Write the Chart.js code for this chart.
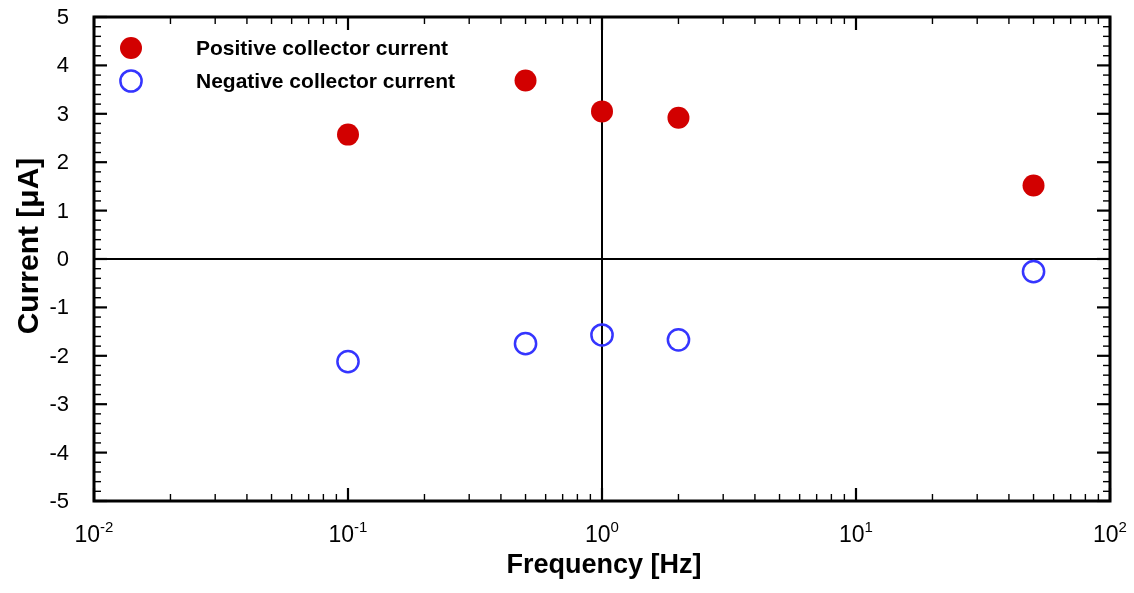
<!DOCTYPE html>
<html>
<head>
<meta charset="utf-8">
<script src="https://cdn.jsdelivr.net/npm/chart.js@4.4.1/dist/chart.umd.min.js"></script>
<style>
  html, body { margin: 0; padding: 0; background: #fff; }
  canvas { display: block; }
</style>
</head>
<body>
<canvas id="chart" width="1134" height="593"></canvas>
<script>
  // data
  const frequencies = [0.1, 0.5, 1, 2, 50];
  const positiveCurrent = [2.57, 3.69, 3.05, 2.92, 1.52];
  const negativeCurrent = [-2.12, -1.75, -1.57, -1.67, -0.26];

  const xDecades = [0.01, 0.1, 1, 10, 100];
  const xExponents = ["-2", "-1", "0", "1", "2"];
  const yTickValues = [-5, -4, -3, -2, -1, 0, 1, 2, 3, 4, 5];

  const labelPositive = "Positive collector current";
  const labelNegative = "Negative collector current";
  const xTitle = "Frequency [Hz]";
  const yTitle = "Current [\u03bcA]";

  const RED = "#d20000";
  const BLUE = "#3535ff";
  const FONT = "Arial, 'Liberation Sans', sans-serif";

  function line(ctx, x1, y1, x2, y2, w) {
    ctx.lineWidth = w;
    ctx.beginPath();
    ctx.moveTo(x1, y1);
    ctx.lineTo(x2, y2);
    ctx.stroke();
  }

  const frame = {
    id: "frame",
    beforeDatasetsDraw(chart) {
      const { ctx, chartArea: a, scales } = chart;
      const x0 = scales.x.getPixelForValue(1);
      const y0 = scales.y.getPixelForValue(0);
      ctx.save();
      ctx.strokeStyle = "#000";
      line(ctx, a.left, y0, a.right, y0, 2);
      line(ctx, x0, a.top, x0, a.bottom, 2);
      ctx.restore();
    },
    afterDatasetsDraw(chart) {
      const { ctx, chartArea: a, scales } = chart;
      const sx = scales.x, sy = scales.y;
      ctx.save();
      ctx.strokeStyle = "#000";
      ctx.fillStyle = "#000";

      // y ticks, left and right, pointing inward
      for (let v = -5; v <= 5.0001; v += 0.2) {
        const y = sy.getPixelForValue(v);
        const major = Math.abs(v - Math.round(v)) < 1e-6;
        const len = major ? 13 : 7;
        const w = major ? 2.2 : 1.4;
        line(ctx, a.left, y, a.left + len, y, w);
        line(ctx, a.right, y, a.right - len, y, w);
      }
      // x ticks, bottom and top
      xDecades.forEach((d, i) => {
        const x = sx.getPixelForValue(d);
        line(ctx, x, a.bottom, x, a.bottom - 13, 2.2);
        line(ctx, x, a.top, x, a.top + 13, 2.2);
        if (i < xDecades.length - 1) {
          for (let m = 2; m <= 9; m++) {
            const xm = sx.getPixelForValue(d * m);
            line(ctx, xm, a.bottom, xm, a.bottom - 7, 1.4);
            line(ctx, xm, a.top, xm, a.top + 7, 1.4);
          }
        }
      });

      // frame
      ctx.lineWidth = 3;
      ctx.strokeRect(a.left, a.top, a.right - a.left, a.bottom - a.top);

      // y tick labels
      ctx.font = "22px " + FONT;
      ctx.textAlign = "right";
      ctx.textBaseline = "middle";
      yTickValues.forEach((v) => {
        ctx.fillText(String(v), a.left - 25, sy.getPixelForValue(v) + 1);
      });

      // x tick labels 10^n
      ctx.textBaseline = "alphabetic";
      ctx.textAlign = "left";
      xDecades.forEach((d, i) => {
        const x = sx.getPixelForValue(d);
        ctx.font = "23px " + FONT;
        const wb = ctx.measureText("10").width;
        ctx.font = "15px " + FONT;
        const we = ctx.measureText(xExponents[i]).width;
        const start = x - (wb + we) / 2;
        ctx.font = "23px " + FONT;
        ctx.fillText("10", start, 542);
        ctx.font = "15px " + FONT;
        ctx.fillText(xExponents[i], start + wb, 532);
      });

      // axis titles
      ctx.font = "bold 27px " + FONT;
      ctx.textAlign = "center";
      ctx.fillText(xTitle, (a.left + a.right) / 2 + 2, 573);
      ctx.save();
      ctx.translate(38, 246);
      ctx.rotate(-Math.PI / 2);
      ctx.font = "bold 30px " + FONT;
      ctx.fillText(yTitle, 0, 0);
      ctx.restore();

      // legend
      ctx.beginPath();
      ctx.arc(131, 48, 11, 0, Math.PI * 2);
      ctx.fillStyle = RED;
      ctx.fill();
      ctx.beginPath();
      ctx.arc(131, 81, 10.6, 0, Math.PI * 2);
      ctx.strokeStyle = BLUE;
      ctx.lineWidth = 2.5;
      ctx.stroke();
      ctx.fillStyle = "#000";
      ctx.font = "bold 21px " + FONT;
      ctx.textAlign = "left";
      ctx.textBaseline = "middle";
      ctx.fillText(labelPositive, 196, 49);
      ctx.fillText(labelNegative, 196, 82);
      ctx.restore();
    },
  };

  const toPoints = (ys) => frequencies.map((f, i) => ({ x: f, y: ys[i] }));

  new Chart(document.getElementById("chart"), {
    type: "scatter",
    data: {
      datasets: [
        {
          label: labelPositive,
          data: toPoints(positiveCurrent),
          pointRadius: 11,
          pointHoverRadius: 11,
          backgroundColor: RED,
          borderColor: RED,
          borderWidth: 0,
        },
        {
          label: labelNegative,
          data: toPoints(negativeCurrent),
          pointRadius: 10.6,
          pointHoverRadius: 10.6,
          backgroundColor: "rgba(255,255,255,0)",
          borderColor: BLUE,
          borderWidth: 2.5,
        },
      ],
    },
    options: {
      responsive: false,
      animation: false,
      events: [],
      layout: { padding: { left: 94, right: 24, top: 17, bottom: 92 } },
      plugins: { legend: { display: false }, tooltip: { enabled: false } },
      scales: {
        x: { type: "logarithmic", min: 0.01, max: 100, display: false },
        y: { type: "linear", min: -5, max: 5, display: false },
      },
    },
    plugins: [frame],
  });
</script>
</body>
</html>
